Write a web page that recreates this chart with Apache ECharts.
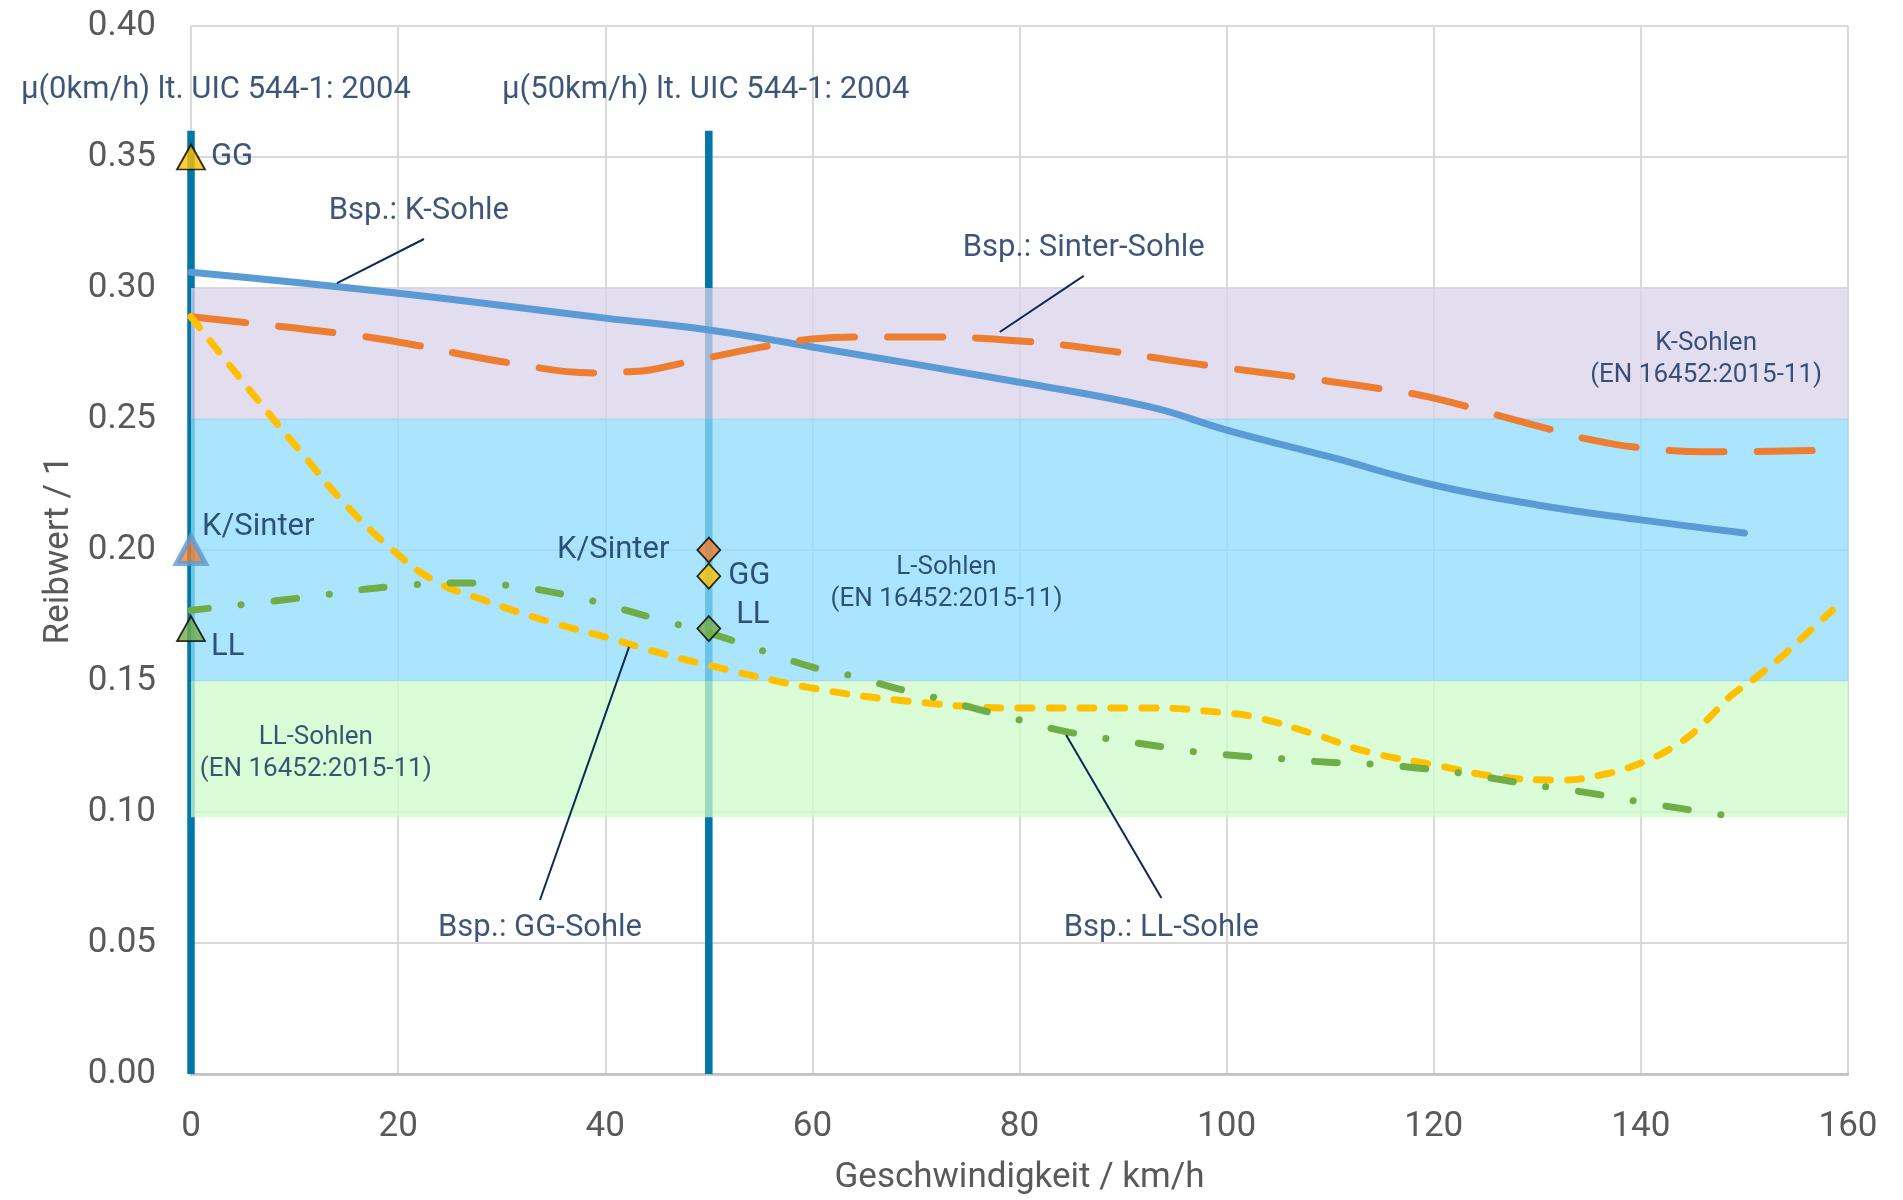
<!DOCTYPE html>
<html><head><meta charset="utf-8">
<script src="https://cdn.jsdelivr.net/npm/echarts@6/dist/echarts.min.js"></script>
<style>html,body{margin:0;padding:0;background:#fff}#c{width:1903px;height:1200px}</style>
</head><body><div id="c"></div>
<script>
// ---------------- data ----------------
const xTickLabels = ['0','20','40','60','80','100','120','140','160'];
const yTickLabels = ['0.00','0.05','0.10','0.15','0.20','0.25','0.30','0.35','0.40'];

// [Geschwindigkeit km/h, Reibwert]
const kSohle = [[0,0.306],[20,0.298],[40,0.2885],[50,0.284],[60,0.2775],[80,0.264],[92.6,0.2546],[100,0.2458],[110,0.2355],[120,0.2248],[130,0.2172],[140,0.2115],[150,0.2065]];
const sinterSohle = [[0,0.289],[5.7,0.2866],[14.1,0.2828],[20,0.2794],[30.8,0.2714],[39.2,0.2676],[42.1,0.268],[44.3,0.2687],[47.5,0.2714],[50.3,0.2737],[55.9,0.278],[60,0.2805],[64.3,0.2813],[70.1,0.2813],[80,0.2798],[89.4,0.2756],[94.5,0.2725],[100,0.2695],[106.8,0.266],[115.1,0.2614],[120,0.258],[126.1,0.2515],[131.5,0.2458],[134.4,0.2427],[140,0.239],[147,0.2375],[157,0.238]];
const ggSohle = [[0,0.289],[6.7,0.256],[10.7,0.237],[14.7,0.2183],[19.2,0.201],[23.4,0.1885],[28.2,0.181],[34.7,0.1725],[40,0.1668],[45.3,0.1607],[50,0.156],[60,0.1473],[70,0.142],[80,0.1397],[92.6,0.1397],[100,0.1378],[103,0.136],[108.7,0.1294],[113.6,0.123],[120,0.118],[126.4,0.1134],[132.2,0.1122],[136,0.114],[140,0.1187],[143.7,0.1263],[146.1,0.134],[148.6,0.144],[151,0.151],[153.5,0.159],[156,0.168],[158.5,0.177]];
const llSohle = [[0,0.177],[11.2,0.182],[19.2,0.186],[26.7,0.1874],[31,0.1863],[36.3,0.1828],[39.3,0.18],[44.3,0.1744],[50,0.1683],[55.6,0.161],[60,0.1553],[63.8,0.152],[68,0.1473],[72,0.1435],[76.2,0.139],[80.4,0.1347],[84.7,0.1305],[93.9,0.1248],[97.1,0.1229],[101.3,0.1214],[105.6,0.1202],[109.8,0.119],[114.1,0.1183],[118.4,0.1168],[122.5,0.1149],[126.7,0.1122],[131,0.1095],[135.1,0.1072],[139.4,0.1042],[147.8,0.0989]];

// UIC 544-1 reference speeds and line height
const uicSpeeds = [0, 50];
const uicTop = 0.36;
const uic0Names = ['GG','K/Sinter','LL'];
const uic0Values = [0.35, 0.20, 0.17];
const uic50Names = ['K/Sinter','GG','LL'];
const uic50Values = [0.20, 0.19, 0.17];

// EN 16452 bands
const bandNames = ['LL-Sohlen','L-Sohlen','K-Sohlen'];
const bandLow = [0.098, 0.15, 0.25];
const bandHigh = [0.15, 0.25, 0.30];
const bandFrom = 0, bandTo = 160;

// ---------------- styles / layout ----------------
const FONT = 'Roboto';
const NAVY = '#0B2A57';
const GRAY = '#595959';
const TEXT_WEIGHT = 'normal';
const bandColors = ['rgba(206,252,203,0.75)','rgba(143,220,252,0.75)','rgba(218,210,235,0.75)'];
const uicColor = '#0077A8';

// annotation anchors (in data coordinates) for texts and leader lines
const annotations = [
  {text:'μ(0km/h) lt. UIC 544-1: 2004', at:[2.4,0.3756], size:31},
  {text:'μ(50km/h) lt. UIC 544-1: 2004', at:[49.7,0.3756], size:31},
  {text:'Bsp.: K-Sohle', at:[22.0,0.3294], size:31, leader:[[22.5,0.3187],[14.1,0.3019]]},
  {text:'Bsp.: Sinter-Sohle', at:[86.2,0.3153], size:31, leader:[[86.2,0.3046],[78.1,0.2832]]},
  {text:'Bsp.: GG-Sohle', at:[33.7,0.0557], size:31, leader:[[33.7,0.0664],[42.3,0.1630]]},
  {text:'Bsp.: LL-Sohle', at:[93.7,0.0557], size:31, leader:[[93.7,0.0672],[84.5,0.1294]]},
  {text:'K-Sohlen\n(EN 16452:2015-11)', at:[146.3,0.2729], size:26, lh:32},
  {text:'L-Sohlen\n(EN 16452:2015-11)', at:[72.95,0.1872], size:26, lh:32},
  {text:'LL-Sohlen\n(EN 16452:2015-11)', at:[12.05,0.1225], size:26, lh:32}
];

const uic0Labels = [
  {position:'right', distance:5, offset:[0,0]},
  {position:'right', distance:3, offset:[-9,-23]},
  {position:'right', distance:3, offset:[2,19]}
];
const uic0Symbols = [
  {color:'#FFC000', borderColor:'#000', borderWidth:1.8, size:[28,25]},
  {color:'#ED7D31', borderColor:'#5B9BD5', borderWidth:5, size:[29,27]},
  {color:'#70AD47', borderColor:'#000', borderWidth:1.8, size:[28,25]}
];
const uic50Labels = [
  {position:'left', distance:27, offset:[0,0]},
  {position:'right', distance:7, offset:[0,0]},
  {position:'right', distance:5, offset:[10,-13]}
];
const uic50Colors = ['#ED7D31','#FFC000','#70AD47'];

const chart = echarts.init(document.getElementById('c'), null, {renderer:'canvas'});

const series = [];

// reference lines (under the bands)
uicSpeeds.forEach(function (s) {
  series.push({
    type:'line', z:1, silent:true, clip:false, symbol:'none', animation:false,
    data:[[s,0],[s,uicTop]],
    lineStyle:{color:uicColor, width:7.5, cap:'butt'}
  });
});

// bands
series.push({
  type:'custom', z:1.5, silent:true, animation:false,
  encode:{x:[0,1], y:[2,3]},
  data: bandNames.map(function (n, i) { return [bandFrom, bandTo, bandLow[i], bandHigh[i]]; }),
  renderItem: function (params, api) {
    const p0 = api.coord([api.value(0), api.value(3)]);
    const p1 = api.coord([api.value(1), api.value(2)]);
    return {type:'rect', shape:{x:p0[0], y:p0[1], width:p1[0]-p0[0], height:p1[1]-p0[1]},
            style:{fill: bandColors[params.dataIndex]}};
  }
});

function curve(name, data, color, type, offset) {
  return {
    name:name, type:'line', z:3, silent:true, animation:false, symbol:'none',
    smooth:0.45, clip:false, data:data,
    lineStyle:{color:color, width:7, type:type, dashOffset:offset || 0, cap:'round', join:'round'}
  };
}
series.push(curve('K-Sohle', kSohle, '#5B9BD5', 'solid'));
series.push(curve('Sinter-Sohle', sinterSohle, '#ED7D31', [55,33]));
series.push(curve('GG-Sohle', ggSohle, '#FFC000', [14,17]));
series.push(curve('LL-Sohle', llSohle, '#70AD47', [22.5,33,0.1,33], 5));

// leader lines
annotations.forEach(function (a) {
  if (!a.leader) return;
  series.push({type:'line', z:4, silent:true, clip:false, symbol:'none', animation:false,
    data:a.leader, lineStyle:{color:NAVY, width:2}});
});

// markers at 0 km/h
series.push({
  type:'scatter', z:6, silent:true, animation:false, clip:false, symbol:'triangle',
  data: uic0Values.map(function (v, i) {
    const s = uic0Symbols[i];
    return {value:[uicSpeeds[0], v], symbolSize:s.size,
      itemStyle:{color:s.color, borderColor:s.borderColor, borderWidth:s.borderWidth},
      label:{show:true, formatter:uic0Names[i], position:uic0Labels[i].position,
             distance:uic0Labels[i].distance, offset:uic0Labels[i].offset,
             color:NAVY, fontSize:31, fontFamily:FONT, fontWeight:TEXT_WEIGHT}};
  })
});
// markers at 50 km/h
series.push({
  type:'scatter', z:6, silent:true, animation:false, clip:false, symbol:'diamond', symbolSize:[23,25],
  data: uic50Values.map(function (v, i) {
    return {value:[uicSpeeds[1], v],
      itemStyle:{color:uic50Colors[i], borderColor:'#000', borderWidth:1.8},
      label:{show:true, formatter:uic50Names[i], position:uic50Labels[i].position,
             distance:uic50Labels[i].distance, offset:uic50Labels[i].offset,
             color:NAVY, fontSize:31, fontFamily:FONT, fontWeight:TEXT_WEIGHT}};
  })
});
// annotation texts
series.push({
  type:'scatter', z:7, silent:true, animation:false, clip:false, symbolSize:1,
  itemStyle:{color:'rgba(0,0,0,0)'},
  data: annotations.map(function (a) {
    return {value:a.at, label:{show:true, position:'inside', formatter:a.text,
      color:NAVY, fontSize:a.size, lineHeight:a.lh || a.size*1.2, fontFamily:FONT, fontWeight:TEXT_WEIGHT,
      align:'center', verticalAlign:'middle'}};
  })
});

chart.setOption({
  backgroundColor:'#fff',
  animation:false,
  grid:{left:191, right:55, top:26, bottom:126, containLabel:false, outerBoundsMode:'none'},
  xAxis:{
    type:'value', min:0, max:160, interval:20,
    name:'Geschwindigkeit / km/h', nameLocation:'middle', nameGap:87,
    nameTextStyle:{color:GRAY, fontSize:35, fontFamily:FONT},
    axisLine:{show:true, onZero:false, lineStyle:{color:'#BFBFBF', width:2.5}},
    axisTick:{show:false},
    axisLabel:{color:GRAY, fontSize:35, fontFamily:FONT, margin:36,
      formatter:function (v) { return xTickLabels[Math.round(v/20)]; }},
    splitLine:{show:true, lineStyle:{color:'#D9D9D9', width:2}}
  },
  yAxis:{
    type:'value', min:0, max:0.4, interval:0.05,
    name:'Reibwert / 1', nameLocation:'middle', nameGap:114, nameRotate:90,
    nameTextStyle:{color:GRAY, fontSize:35, fontFamily:FONT},
    axisLine:{show:false}, axisTick:{show:false},
    axisLabel:{color:GRAY, fontSize:35, fontFamily:FONT, margin:35,
      formatter:function (v) { return yTickLabels[Math.round(v/0.05)]; }},
    splitLine:{show:true, lineStyle:{color:'#D9D9D9', width:2}}
  },
  series:series
});
</script></body></html>
